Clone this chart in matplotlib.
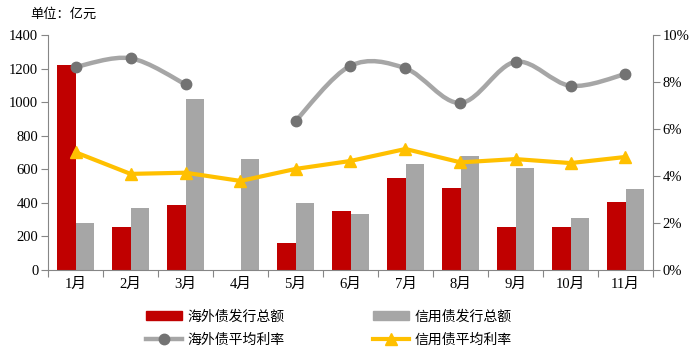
import numpy as np
import matplotlib
matplotlib.use("Agg")
import matplotlib.pyplot as plt
from matplotlib.path import Path
from matplotlib.patches import PathPatch, Patch
from matplotlib.lines import Line2D
from matplotlib.ticker import FixedLocator, FuncFormatter

plt.rcParams['font.family'] = ['Liberation Serif', 'Noto Sans CJK SC']

months = ['1月', '2月', '3月', '4月', '5月', '6月', '7月', '8月', '9月', '10月', '11月']
overseas_amt = [1221, 256, 387, 0, 161, 351, 548, 488, 256, 256, 405]
credit_amt = [280, 369, 1018, 661, 399, 334, 631, 679, 607, 310, 482]
overseas_rate = [8.64, 9.01, 7.90, np.nan, 6.34, 8.69, 8.58, 7.11, 8.86, 7.84, 8.34]
credit_rate = [5.01, 4.09, 4.14, 3.79, 4.30, 4.64, 5.15, 4.58, 4.72, 4.55, 4.81]

RED = '#C00000'
GRAY = '#A6A6A6'
DARK = '#737373'
YEL = '#FFC000'
AXC = '#868686'

fig = plt.figure(figsize=(6.98, 3.55), dpi=100)
ax = fig.add_axes([48/698, 85/355, 605/698, 235/355])
ax2 = ax.twinx()

x = np.arange(len(months))
w = 0.34
ax.bar(x - w/2, overseas_amt, w, color=RED, zorder=2)
ax.bar(x + w/2, credit_amt, w, color=GRAY, zorder=2)

ax.set_xlim(-0.5, len(months) - 0.5)
ax.set_ylim(0, 1400)
ax.set_yticks(np.arange(0, 1401, 200))
ax2.set_ylim(0, 10)
ax2.set_yticks(np.arange(0, 11, 2))
ax2.yaxis.set_major_formatter(FuncFormatter(lambda v, p: f'{v:.0f}%'))

ax.xaxis.set_major_locator(FixedLocator(np.arange(-0.5, len(months), 1.0)))
ax.xaxis.set_minor_locator(FixedLocator(x))
ax.xaxis.set_major_formatter(FuncFormatter(lambda v, p: ''))
ax.set_xticklabels(months, minor=True)
ax.tick_params(axis='x', which='major', length=5, color=AXC, direction='out')
ax.tick_params(axis='x', which='minor', length=0, pad=6, labelsize=10.5)
ax.tick_params(axis='y', length=5, color=AXC, labelsize=10.5, pad=2)
ax2.tick_params(axis='y', length=5, color=AXC, labelsize=10.5, pad=2)

for a in (ax, ax2):
    a.spines['top'].set_visible(False)
    for s in ('left', 'right', 'bottom'):
        a.spines[s].set_color(AXC)
ax.spines['right'].set_visible(False)
ax2.spines['left'].set_visible(False)
ax2.spines['bottom'].set_visible(False)


def smooth_path(xs, ys):
    xs = np.asarray(xs, float); ys = np.asarray(ys, float)
    verts = [(xs[0], ys[0])]
    codes = [Path.MOVETO]
    n = len(xs)
    for i in range(n - 1):
        p0 = np.array([xs[max(i-1, 0)], ys[max(i-1, 0)]])
        p1 = np.array([xs[i], ys[i]])
        p2 = np.array([xs[i+1], ys[i+1]])
        p3 = np.array([xs[min(i+2, n-1)], ys[min(i+2, n-1)]])
        c1 = p1 + (p2 - p0) / 6.0
        c2 = p2 - (p3 - p1) / 6.0
        verts += [tuple(c1), tuple(c2), tuple(p2)]
        codes += [Path.CURVE4] * 3
    return Path(verts, codes)

orate = np.array(overseas_rate, float)
valid = ~np.isnan(orate)
segs = []
cur = []
for i in range(len(x)):
    if valid[i]:
        cur.append(i)
    else:
        if cur:
            segs.append(cur)
        cur = []
if cur:
    segs.append(cur)
for sg in segs:
    pth = smooth_path(x[sg], orate[sg])
    ax2.add_patch(PathPatch(pth, facecolor='none', edgecolor=GRAY, lw=3.2,
                            capstyle='round', zorder=3))
ax2.plot(x, orate, linestyle='none', marker='o', ms=7.5, color=DARK, zorder=4)

ax2.plot(x, credit_rate, color=YEL, lw=3, marker='^', ms=8, zorder=4)

fig.text(30/698, 1 - 14/355, '单位：亿元', fontsize=9.5, va='center', ha='left',
         family=['Noto Sans CJK SC'])

handles = [Patch(color=RED),
           Line2D([], [], color=GRAY, lw=3.2, marker='o', ms=7.5, mfc=DARK, mec=DARK),
           Patch(color=GRAY),
           Line2D([], [], color=YEL, lw=3, marker='^', ms=8)]
labels = ['海外债发行总额', '海外债平均利率', '信用债发行总额', '信用债平均利率']
leg = fig.legend(handles, labels, ncol=2, loc='center', bbox_to_anchor=(329/698, 1 - 328/355),
                 frameon=False, handlelength=2.55, handleheight=0.6,
                 handletextpad=0.4, columnspacing=6.4, labelspacing=0.65,
                 prop={'family': ['Noto Sans CJK SC'], 'size': 10})

fig.savefig('out.png', dpi=100)
